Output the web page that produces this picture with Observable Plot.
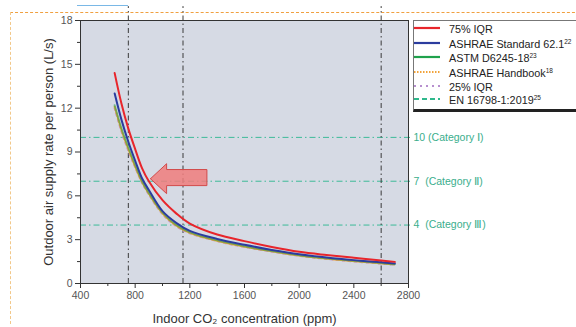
<!DOCTYPE html>
<html><head><meta charset="utf-8">
<script src="https://cdn.jsdelivr.net/npm/d3@7"></script>
<script src="https://cdn.jsdelivr.net/npm/@observablehq/plot@0.6"></script>
<style>
body{margin:0;background:#fff;font-family:"Liberation Sans",Arial,sans-serif;}
#wrap{position:relative;width:576px;height:327px;overflow:hidden;background:#fff;}
#wrap svg{position:absolute;left:0;top:0;}
.deco{position:absolute;}
#legend{position:absolute;left:413px;top:20px;width:180px;height:92px;border:1px solid #777;border-bottom:3px solid #222;background:#fff;box-sizing:border-box;}
.row{position:absolute;left:0;height:14px;font-size:10.8px;color:#222;white-space:nowrap;}
.row svg{position:absolute;left:2px;top:1px;}
.row span{position:absolute;left:35px;top:0;line-height:14px;}
.row sup{font-size:6.5px;vertical-align:4px;line-height:0;}
</style></head><body><div id="wrap"></div>
<script>
// x values (indoor CO2, ppm) at which the curves were read
const co2 = [650,700,750,800,850,900,1000,1100,1200,1400,1600,1800,2000,2200,2400,2600,2700];
// outdoor air supply rate per person (L/s)
const iqr75    = [14.4,12.3,10.6,9.2,7.9,7.0,5.7,4.8,4.1,3.35,2.9,2.5,2.17,1.95,1.76,1.58,1.48];
const ashrae62 = [13.0,11.2,9.7,8.4,7.2,6.4,4.95,4.15,3.6,3.05,2.65,2.3,2.0,1.78,1.6,1.45,1.37];
const astm     = [12.2,10.6,9.3,8.1,7.0,6.2,4.85,4.0,3.5,2.95,2.55,2.22,1.93,1.72,1.55,1.40,1.32];
const handbook = [12.1,10.5,9.2,8.0,6.95,6.15,4.8,3.97,3.47,2.92,2.52,2.2,1.91,1.70,1.53,1.38,1.30];
const iqr25    = [12.0,10.4,9.1,7.95,6.9,6.1,4.75,3.93,3.44,2.9,2.5,2.18,1.89,1.68,1.51,1.36,1.28];
// EN 16798-1:2019 category levels
const enLevels = [10, 7, 4];
const enLabels = ["10 (Category Ⅰ)", "7  (Category Ⅱ)", "4  (Category Ⅲ)"];
// reference CO2 concentrations (vertical dash-dot lines)
const refCO2 = [750, 1150, 2600];
// ticks
const xTicks = [400, 800, 1200, 1600, 2000, 2400, 2800];
const xMinor = [600, 1000, 1400, 1800, 2200, 2600];
const yTicks = [0, 3, 6, 9, 12, 15, 18];
const yMinor = [1.5, 4.5, 7.5, 10.5, 13.5, 16.5];
const xTitle = ["Indoor CO₂ concentration (ppm)"];
const yTitle = ["Outdoor air supply rate per person (L/s)"];
// annotation arrow outline (data coordinates)
const arrowCO2 = [912, 1030, 1030, 1325, 1325, 1030, 1030, 912];
const arrowVal = [7.17, 8.2, 7.8, 7.8, 6.7, 6.7, 6.15, 7.17];

const seriesNames = ["75% IQR", "ASHRAE Standard 62.1", "ASTM D6245-18", "ASHRAE Handbook", "25% IQR", "EN 16798-1:2019"];
const seriesSup = ["", "22", "23", "18", "", "25"];
const seriesColors = ["#e8252b", "#2b3c9e", "#1fa24c", "#f2a33a", "#b78fcf", "#2fb88c"];
const seriesDash = [null, null, null, "1.5,1.5", "2,4", "5,3"];
const seriesValues = [iqr75, ashrae62, astm, handbook, iqr25];

const curves = seriesValues.map((vals, i) => co2.map((c, j) => ({x: c, y: vals[j], s: seriesNames[i]})));
const arrow = arrowCO2.map((c, i) => ({x: c, y: arrowVal[i]}));
const cats = enLevels.map((v, i) => ({y: v, t: enLabels[i]}));

const drawOrder = [4, 3, 2, 1, 0];
const curveMarks = drawOrder.map(i => Plot.line(curves[i], {
  x: "x", y: "y", curve: "catmull-rom",
  stroke: seriesColors[i],
  strokeWidth: 2,
  strokeOpacity: i === 2 ? 0.55 : 1,
  strokeDasharray: seriesDash[i]
}));

const chart = Plot.plot({
  width: 576, height: 327,
  marginLeft: 80, marginRight: 168, marginTop: 20, marginBottom: 44,
  style: {fontFamily: "Liberation Sans, Arial, sans-serif", fontSize: "10px", color: "#444", background: "transparent", overflow: "visible"},
  x: {domain: [400, 2800]},
  y: {domain: [0, 18]},
  marks: [
    Plot.frame({fill: "#d6dae4"}),
    Plot.ruleY(enLevels, {y: d => d, x1: 400, x2: 2830, stroke: "#3dba98", strokeWidth: 1, strokeDasharray: "6,3,1.5,3", clip: false}),
    Plot.ruleX(refCO2, {x: d => d, y1: 0, y2: 18.95, stroke: "#3a3a3a", strokeWidth: 1, strokeDasharray: "5,3,1.5,3", clip: false}),
    ...curveMarks,
    Plot.line(arrow, {x: "x", y: "y", fill: "#f07c7c", fillOpacity: 0.85, stroke: "#d24a4a", strokeWidth: 1, curve: "linear"}),
    Plot.text(cats, {x: 2800, y: "y", text: "t", dx: 5, textAnchor: "start", fill: "#3aae8c", fontSize: 10.5, clip: false}),
    Plot.frame({stroke: "#333", strokeWidth: 1}),
    Plot.axisX(xMinor, {tickSize: 3, text: null, stroke: "#333", label: null}),
    Plot.axisX(xTicks, {tickSize: 5, tickPadding: 3, stroke: "#333", fill: "#555", tickFormat: d => String(d), label: null, fontSize: 10.5}),
    Plot.axisY(yMinor, {tickSize: 3, text: null, stroke: "#333", label: null}),
    Plot.axisY(yTicks, {tickSize: 5, tickPadding: 3, stroke: "#333", fill: "#555", tickFormat: d => String(d), label: null, fontSize: 10.5}),
    Plot.text(xTitle, {frameAnchor: "bottom", dy: 35, lineAnchor: "middle", textAnchor: "middle", fontSize: 13, fill: "#333", clip: false}),
    Plot.text(yTitle, {frameAnchor: "left", dx: -32, rotate: -90, lineAnchor: "middle", textAnchor: "middle", fontSize: 13, fill: "#333", clip: false})
  ]
});

const wrap = document.getElementById("wrap");
// figure border decorations
const top1 = document.createElement("div"); top1.className = "deco";
top1.style.cssText = "left:10px;top:12px;width:580px;height:0;border-top:1px dashed #f0a040;";
const left1 = document.createElement("div"); left1.className = "deco";
left1.style.cssText = "left:10px;top:12px;width:0;height:312px;border-left:1px dashed #f2c88a;";
const blue1 = document.createElement("div"); blue1.className = "deco";
blue1.style.cssText = "left:77px;top:5px;width:51px;height:1px;background:#7ab8e6;";
wrap.appendChild(top1); wrap.appendChild(left1); wrap.appendChild(blue1);
wrap.appendChild(chart);

// legend
const leg = document.createElement("div"); leg.id = "legend";
const rowTops = [1, 16, 30, 45, 59, 72];
seriesNames.forEach((n, i) => {
  const r = document.createElement("div"); r.className = "row"; r.style.top = rowTops[i] + "px";
  const dash = seriesDash[i] ? `stroke-dasharray="${seriesDash[i]}"` : "";
  r.innerHTML = `<svg width="28" height="12"><line x1="0" x2="26" y1="6" y2="6" stroke="${seriesColors[i]}" stroke-width="${i===3?1.8:2.2}" ${dash}/></svg><span>${n}${seriesSup[i] ? "<sup>" + seriesSup[i] + "</sup>" : ""}</span>`;
  leg.appendChild(r);
});
wrap.appendChild(leg);
</script>
</body></html>
